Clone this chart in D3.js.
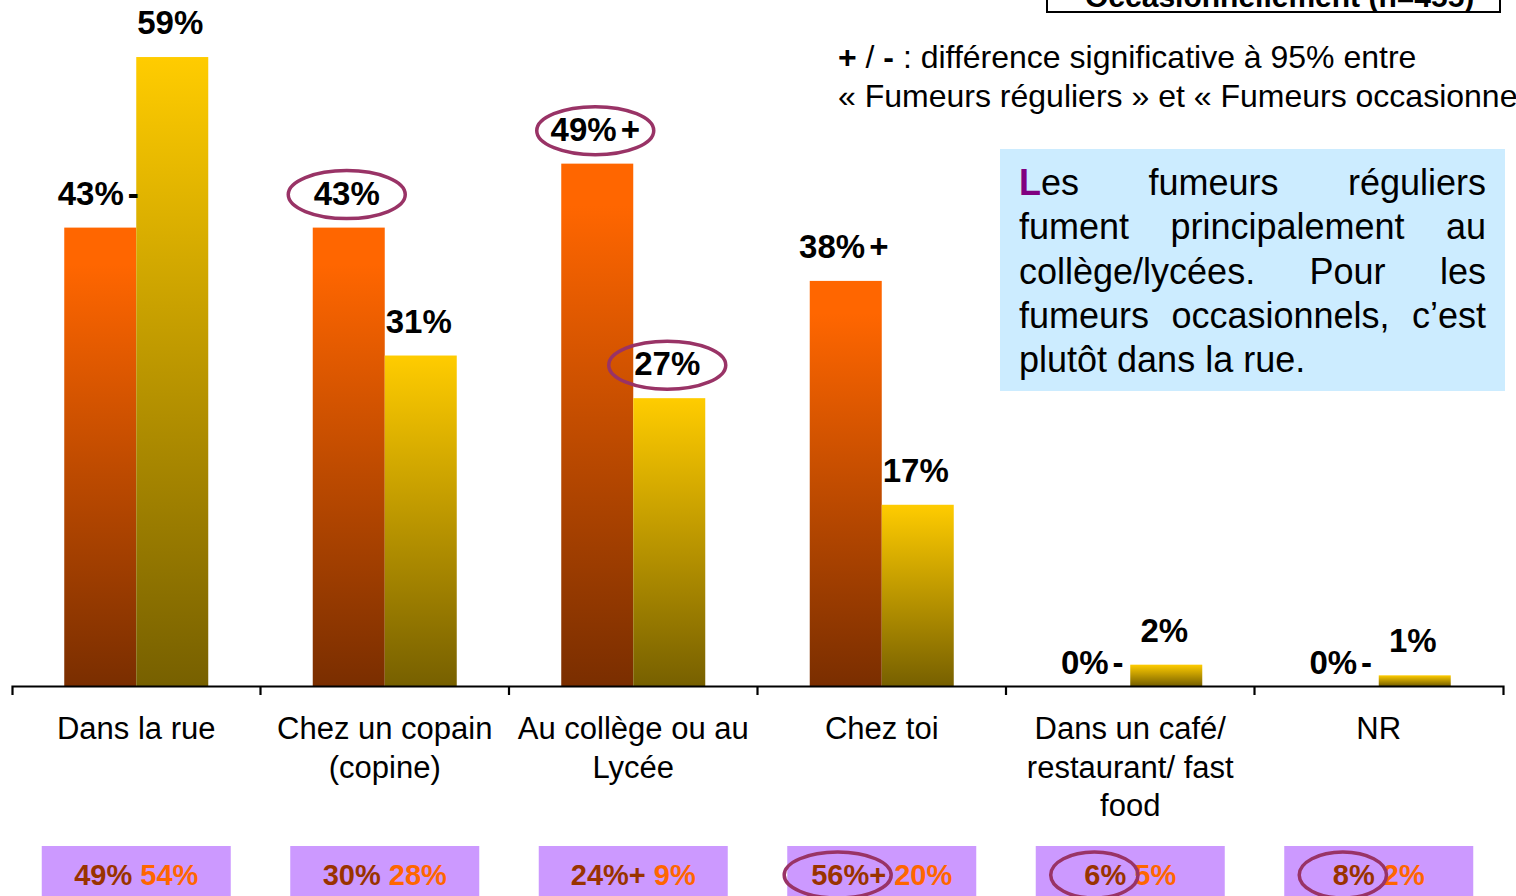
<!DOCTYPE html>
<html>
<head>
<meta charset="utf-8">
<script src="https://cdn.jsdelivr.net/npm/d3@7/dist/d3.min.js"></script>
<style>
  html, body { margin: 0; padding: 0; background: #fff; overflow: hidden; }
  svg { display: block; font-family: "Liberation Sans", Arial, sans-serif; }
</style>
</head>
<body>
<svg id="chart" width="1516" height="896"></svg>
<script>
// Lieux où l'on fume : fumeurs réguliers vs fumeurs occasionnels
const categories = ["Dans la rue", "Chez un copain (copine)", "Au collège ou au Lycée", "Chez toi", "Dans un café/ restaurant/ fast food", "NR"];
const categoryLines = [["Dans la rue"], ["Chez un copain", "(copine)"], ["Au collège ou au", "Lycée"], ["Chez toi"], ["Dans un café/", "restaurant/ fast", "food"], ["NR"]];
const series = ["Fumeurs réguliers", "Fumeurs occasionnels"];
const regular = [43, 43, 49, 38, 0, 0];
const occasional = [59, 31, 27, 17, 2, 1];
const regularSig = ["-", "", "+", "+", "-", "-"];
const occasionalSig = ["", "", "", "", "", ""];
const regularCircled = [false, true, true, false, false, false];
const occasionalCircled = [false, false, true, false, false, false];
// comparison figures shown in the boxes under each category
const compareA = [49, 30, 24, 56, 6, 8];
const compareASig = ["", "", "+", "+", "", ""];
const compareB = [54, 28, 9, 20, 5, 2];
const compareCircled = [false, false, false, true, true, true];

const noteLines = ["Les fumeurs réguliers", "fument principalement au", "collège/lycées. Pour les", "fumeurs occasionnels, c’est", "plutôt dans la rue."];

const svg = d3.select("#chart");
const baseY = 686;
const x0 = d3.scaleBand().domain(categories).range([12, 1503]);
const bw = x0.bandwidth();
const x1 = d3.scaleBand().domain(series).range([bw / 2 - 72, bw / 2 + 72]);
const y = d3.scaleLinear().domain([0, 64.35]).range([baseY, 0]);

// gradients for the bars (per bar, top to bottom)
const defs = svg.append("defs");
function grad(id, stops) {
  const g = defs.append("linearGradient").attr("id", id)
    .attr("x1", 0).attr("y1", 0).attr("x2", 0).attr("y2", 1);
  stops.forEach(s => g.append("stop").attr("offset", s[0]).attr("stop-color", s[1]));
}
grad("gReg", [[0, "#FF6600"], [0.08, "#FF6600"], [1, "#7A2E00"]]);
grad("gOcc", [[0, "#FFCC00"], [1, "#776000"]]);

const rows = categories.map((c, i) => ({
  cat: c, i,
  vals: [
    { s: series[0], v: regular[i], sig: regularSig[i], circ: regularCircled[i], fill: "url(#gReg)" },
    { s: series[1], v: occasional[i], sig: occasionalSig[i], circ: occasionalCircled[i], fill: "url(#gOcc)" }
  ]
}));

const groups = svg.append("g").selectAll("g").data(rows).join("g")
  .attr("transform", d => `translate(${x0(d.cat)},0)`);

groups.selectAll("rect").data(d => d.vals).join("rect")
  .attr("x", d => x1(d.s))
  .attr("y", d => y(d.v))
  .attr("width", x1.bandwidth())
  .attr("height", d => baseY - y(d.v))
  .attr("fill", d => d.fill);

// value labels
const labels = groups.selectAll("text.val").data(d => d.vals).join("text")
  .attr("class", "val")
  .attr("x", d => x1(d.s) + x1.bandwidth() / 2 - 2)
  .attr("y", d => y(d.v) - (d.v > 0 ? 23 : 12))
  .attr("text-anchor", "middle")
  .attr("font-size", 33)
  .attr("font-weight", "bold")
  .attr("fill", "#000");
labels.append("tspan").text(d => d.v + "%");
labels.filter(d => d.sig).append("tspan").attr("dx", 4).text(d => d.sig);

// circled labels
groups.selectAll("ellipse.circ").data(d => d.vals.filter(v => v.circ)).join("ellipse")
  .attr("class", "circ")
  .attr("cx", d => x1(d.s) + x1.bandwidth() / 2 - 2)
  .attr("cy", d => y(d.v) - 23 - 10)
  .attr("rx", 58.5).attr("ry", 24)
  .attr("fill", "none").attr("stroke", "#993366").attr("stroke-width", 3.5);

// axis
const axis = svg.append("g").attr("transform", `translate(0,${baseY})`)
  .call(d3.axisBottom(x0).tickSize(0).tickSizeOuter(9).tickFormat(""));
axis.select(".domain").attr("stroke", "#000").attr("stroke-width", 2.2);
axis.selectAll(".tick").remove();
axis.selectAll("line.sep").data(categories.slice(1)).join("line")
  .attr("class", "sep")
  .attr("x1", d => x0(d)).attr("x2", d => x0(d))
  .attr("y1", 0).attr("y2", 9)
  .attr("stroke", "#000").attr("stroke-width", 2.2);

// category labels
const catText = svg.append("g").selectAll("text").data(rows).join("text")
  .attr("x", d => x0(d.cat) + bw / 2)
  .attr("y", 739)
  .attr("text-anchor", "middle")
  .attr("font-size", 31)
  .attr("fill", "#000");
catText.selectAll("tspan").data(d => categoryLines[d.i].map(l => ({ l, x: x0(d.cat) + bw / 2 }))).join("tspan")
  .attr("x", d => d.x)
  .attr("dy", (d, k) => k === 0 ? 0 : 38.5)
  .text(d => d.l);

// comparison boxes
const boxes = svg.append("g").selectAll("g").data(rows).join("g")
  .attr("transform", d => `translate(${x0(d.cat) + bw / 2},0)`);
boxes.append("rect")
  .attr("x", -94.5).attr("y", 846).attr("width", 189).attr("height", 60)
  .attr("fill", "#CC99FF");
const cmp = boxes.append("text")
  .attr("x", 0).attr("y", 885)
  .attr("text-anchor", "middle")
  .attr("font-size", 29).attr("font-weight", "bold");
cmp.append("tspan").attr("class", "a").attr("fill", "#993300")
  .text(d => compareA[d.i] + "%" + compareASig[d.i]);
cmp.append("tspan").attr("fill", "#FF6600")
  .text(d => " " + compareB[d.i] + "%");
boxes.filter(d => compareCircled[d.i]).each(function () {
  const g = d3.select(this);
  const bb = g.select("tspan.a").node().getBBox();
  g.append("ellipse")
    .attr("cx", bb.x + bb.width / 2 - 11)
    .attr("cy", 875)
    .attr("rx", bb.width * 0.3 + 31).attr("ry", 23)
    .attr("fill", "none").attr("stroke", "#993366").attr("stroke-width", 3.5);
});

// legend box at the top (partly above the frame)
svg.append("rect").attr("x", 1047).attr("y", -40).attr("width", 453).attr("height", 52)
  .attr("fill", "#fff").attr("stroke", "#000").attr("stroke-width", 2);
svg.append("text").attr("x", 1085).attr("y", 7)
  .attr("font-size", 30).attr("font-weight", "bold").attr("fill", "#000")
  .text("Occasionnellement (n=455)");

// significance note
const note = svg.append("g").attr("font-size", 32).attr("fill", "#000");
const n1 = note.append("text").attr("x", 838).attr("y", 68);
n1.append("tspan").attr("font-weight", "bold").text("+");
n1.append("tspan").text(" / ");
n1.append("tspan").attr("font-weight", "bold").text("-");
n1.append("tspan").text(" : différence significative à 95% entre");
note.append("text").attr("x", 838).attr("y", 107)
  .text("« Fumeurs réguliers » et « Fumeurs occasionnels »");

// comment box, justified text
svg.append("rect").attr("x", 1000).attr("y", 149).attr("width", 505).attr("height", 242)
  .attr("fill", "#CCECFF");
const left = 1019, right = 1486;
const comment = svg.append("g").attr("font-size", 36).attr("fill", "#000");
noteLines.forEach((line, li) => {
  const by = 195 + li * 44.25;
  const words = line.split(" ");
  const nodes = words.map((w, wi) => {
    const t = comment.append("text").attr("y", by);
    if (li === 0 && wi === 0) {
      t.append("tspan").attr("fill", "#800080").attr("font-weight", "bold").text(w[0]);
      t.append("tspan").text(w.slice(1));
    } else {
      t.text(w);
    }
    return t;
  });
  const widths = nodes.map(t => t.node().getComputedTextLength());
  const last = li === noteLines.length - 1;
  const total = d3.sum(widths);
  const gap = last ? 10 : (right - left - total) / (words.length - 1);
  let xx = left;
  nodes.forEach((t, k) => { t.attr("x", xx); xx += widths[k] + gap; });
});
</script>
</body>
</html>
